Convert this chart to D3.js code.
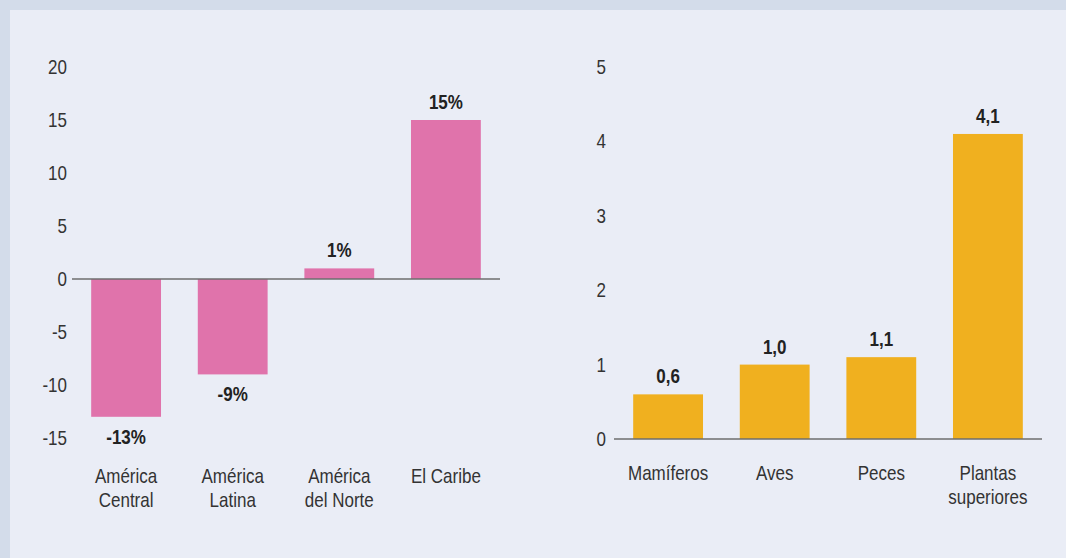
<!DOCTYPE html>
<html>
<head>
<meta charset="utf-8">
<script src="https://cdn.jsdelivr.net/npm/d3@7"></script>
<style>
  html, body { margin: 0; padding: 0; background: #d3dcea; }
  svg { display: block; }
  text { font-family: "Liberation Sans", Arial, sans-serif; fill: #2b2b2b; }
</style>
</head>
<body>
<svg id="chart" width="1066" height="558"></svg>
<script>
// Left panel: change by region (%)
const regions = [["América", "Central"], ["América", "Latina"], ["América", "del Norte"], ["El Caribe"]];
const regionValues = [-13, -9, 1, 15];
const regionLabels = ["-13%", "-9%", "1%", "15%"];
const regionTicks = [20, 15, 10, 5, 0, -5, -10, -15];

// Right panel: ratio by taxonomic group
const groups = [["Mamíferos"], ["Aves"], ["Peces"], ["Plantas", "superiores"]];
const groupValues = [0.6, 1.0, 1.1, 4.1];
const groupLabels = ["0,6", "1,0", "1,1", "4,1"];
const groupTicks = [0, 1, 2, 3, 4, 5];

const svg = d3.select("#chart");
const SX = 0.85; // horizontal squeeze for a condensed look

// panel background
svg.append("rect").attr("x", 10).attr("y", 10).attr("width", 1056).attr("height", 548).attr("fill", "#eaedf6");

function place(x, y) { return `translate(${x},${y}) scale(${SX},1)`; }

function panel(opts) {
  const g = svg.append("g");
  const x = d3.scaleBand().domain(d3.range(opts.values.length))
    .range([opts.x0, opts.x1]).paddingInner(0.345).paddingOuter(0.18);
  const y = d3.scaleLinear().domain(opts.domain).range(opts.yRange);

  // y tick labels
  g.selectAll("text.tick").data(opts.ticks).join("text")
    .attr("class", "tick")
    .attr("transform", d => place(opts.tickX, y(d)))
    .attr("dy", "0.35em").attr("text-anchor", "end")
    .style("font-size", "20px").style("fill", "#333")
    .text(d => d);

  // bars
  g.selectAll("rect.bar").data(opts.values).join("rect")
    .attr("class", "bar")
    .attr("x", (d, i) => x(i)).attr("width", x.bandwidth())
    .attr("y", d => y(Math.max(0, d)))
    .attr("height", d => Math.abs(y(d) - y(0)))
    .attr("fill", opts.color);

  // zero line
  g.append("line").attr("x1", opts.x0).attr("x2", opts.x1)
    .attr("y1", y(0)).attr("y2", y(0))
    .attr("stroke", "#6e6e6e").attr("stroke-width", 1.5);

  // value labels
  g.selectAll("text.val").data(opts.values).join("text")
    .attr("class", "val")
    .attr("transform", (d, i) => place(x(i) + x.bandwidth() / 2, d >= 0 ? y(d) - 11 : y(d) + 27))
    .attr("text-anchor", "middle")
    .style("font-size", "20px").style("font-weight", "bold").style("fill", "#222")
    .text((d, i) => opts.labels[i]);

  // category labels
  const cat = g.selectAll("text.cat").data(opts.cats).join("text")
    .attr("class", "cat")
    .attr("transform", (d, i) => place(x(i) + x.bandwidth() / 2, opts.catY))
    .attr("text-anchor", "middle")
    .style("font-size", "20px").style("fill", "#333");
  cat.selectAll("tspan").data(d => d).join("tspan")
    .attr("x", 0)
    .attr("dy", (d, i) => i === 0 ? 0 : 24)
    .text(d => d);
}

panel({
  values: regionValues, labels: regionLabels, cats: regions, ticks: regionTicks,
  domain: [-15, 20], yRange: [438, 67], x0: 72, x1: 500, tickX: 67,
  color: "#e073ab", catY: 483
});

panel({
  values: groupValues, labels: groupLabels, cats: groups, ticks: groupTicks,
  domain: [0, 5], yRange: [439, 67], x0: 614, x1: 1042, tickX: 606,
  color: "#f0b01f", catY: 480
});
</script>
</body>
</html>
